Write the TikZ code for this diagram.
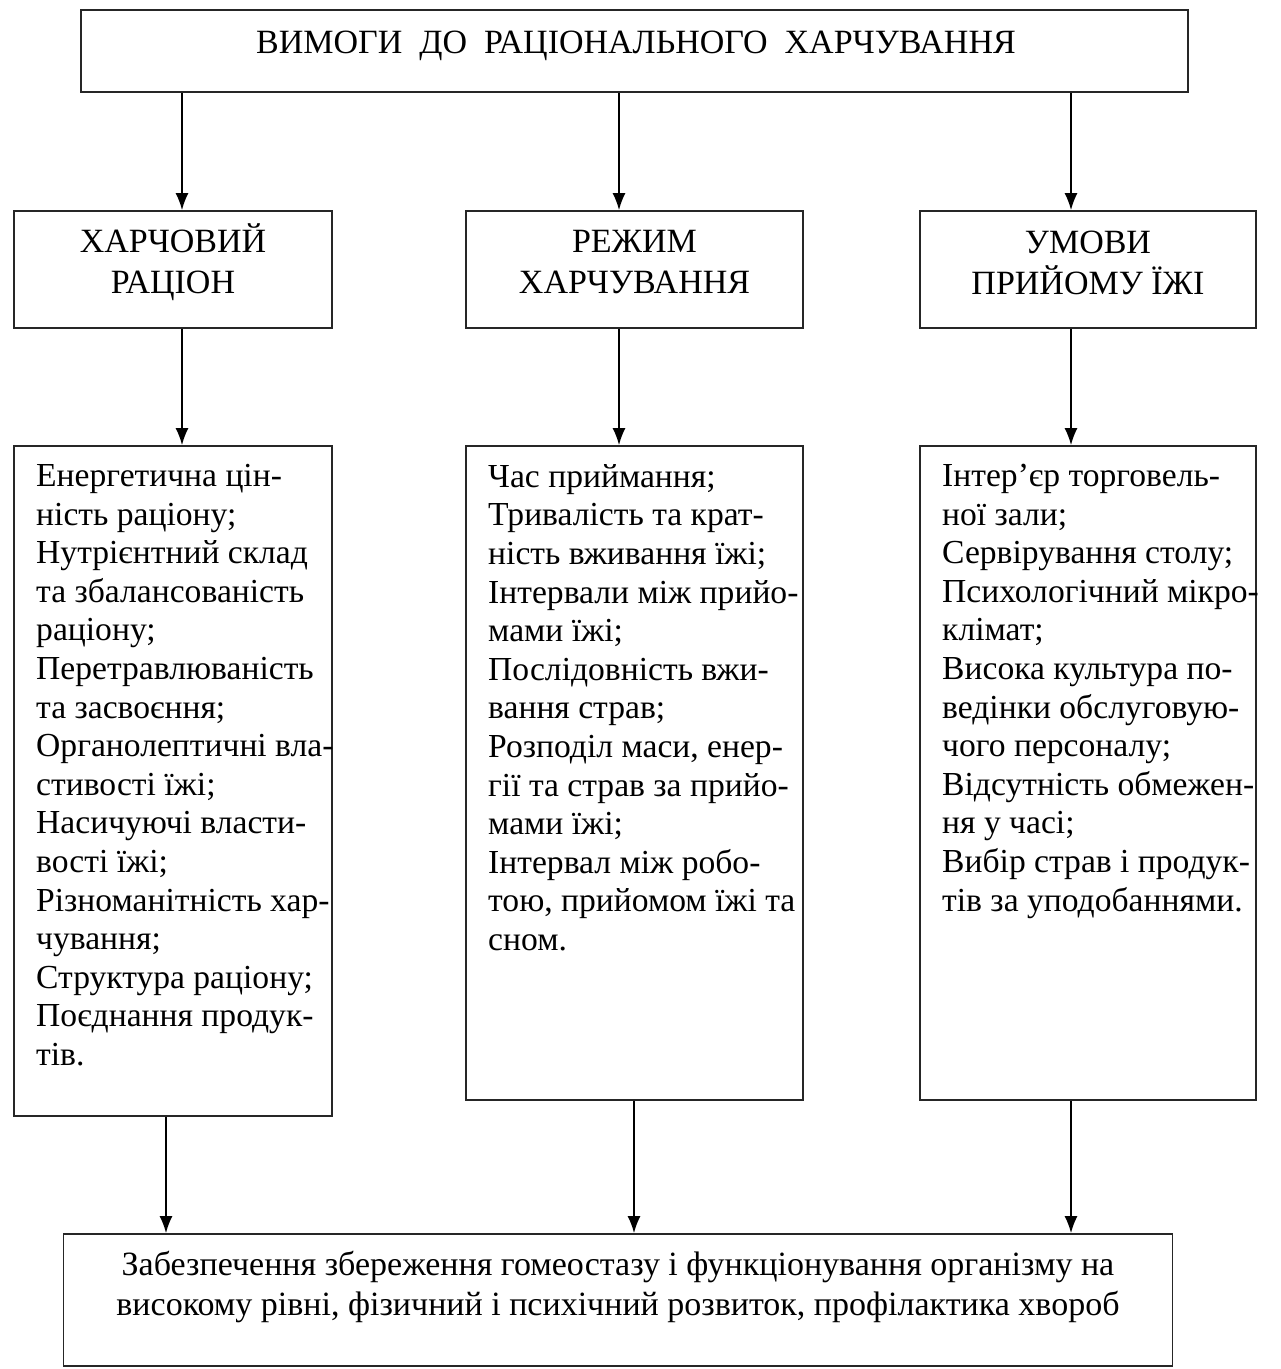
\documentclass[tikz,border=0pt]{standalone}
\usepackage{fontspec}
\setmainfont{Liberation Serif}
\usetikzlibrary{arrows.meta}
\begin{document}
\begin{tikzpicture}[x=1pt,y=-1pt,
  box/.style={draw=black!85,line width=1.7pt,inner sep=0pt},
  txt/.style={inner sep=0pt,align=center,font=\fontsize{34}{41}\selectfont},
  ltxt/.style={inner sep=0pt,align=left,anchor=north west,font=\fontsize{33.6}{38.6}\selectfont},
  arr/.style={line width=1.7pt,-{Latex[length=17pt,width=13pt]}}]
\useasboundingbox (0,0) rectangle (1281,1369);
\fill[white] (0,0) rectangle (1281,1369);
% top
\node[box,minimum width=1107pt,minimum height=82pt] (top) at (634.5,51) {};
\node[txt,font=\fontsize{34}{40}\selectfont] (toptxt) at (636,45.5) {ВИМОГИ\ \ ДО\ \ РАЦІОНАЛЬНОГО\ \ ХАРЧУВАННЯ};
% headings
\node[box,minimum width=318pt,minimum height=117pt] (h1) at (173,269.5) {};
\node[box,minimum width=337pt,minimum height=117pt] (h2) at (634.5,269.5) {};
\node[box,minimum width=336pt,minimum height=117pt] (h3) at (1088,269.5) {};
\node[txt] (h1t) at (173,262.5) {ХАРЧОВИЙ\\РАЦІОН};
\node[txt] (h2t) at (634.5,262.5) {РЕЖИМ\\ХАРЧУВАННЯ};
\node[txt] (h3t) at (1088,262.5) {УМОВИ\\ПРИЙОМУ ЇЖІ};
% lists
\node[box,minimum width=318pt,minimum height=670pt] (l1) at (173,781) {};
\node[box,minimum width=337pt,minimum height=654pt] (l2) at (634.5,773) {};
\node[box,minimum width=336pt,minimum height=654pt] (l3) at (1088,773) {};
\node[ltxt] (l1t) at (36,464) {Енергетична цін-\\ність раціону;\\Нутрієнтний склад\\та збалансованість\\раціону;\\Перетравлюваність\\та засвоєння;\\Органолептичні вла-\\стивості їжі;\\Насичуючі власти-\\вості їжі;\\Різноманітність хар-\\чування;\\Структура раціону;\\Поєднання продук-\\тів.};
\node[ltxt] (l2t) at (488,464) {Час приймання;\\Тривалість та крат-\\ність вживання їжі;\\Інтервали між прийо-\\мами їжі;\\Послідовність вжи-\\вання страв;\\Розподіл маси, енер-\\гії та страв за прийо-\\мами їжі;\\Інтервал між робо-\\тою, прийомом їжі та\\сном.};
\node[ltxt] (l3t) at (942,464) {Інтер’єр торговель-\\ної зали;\\Сервірування столу;\\Психологічний мікро-\\клімат;\\Висока культура по-\\ведінки обслуговую-\\чого персоналу;\\Відсутність обмежен-\\ня у часі;\\Вибір страв і продук-\\тів за уподобаннями.};
% bottom
\node[box,minimum width=1109pt,minimum height=132pt] (bot) at (618,1300) {};
\node[txt,font=\fontsize{34}{40}\selectfont] (bott) at (618,1287) {Забезпечення збереження гомеостазу і функціонування організму на\\високому рівні, фізичний і психічний розвиток, профілактика хвороб};
% arrows
\draw[arr] (182,0 |- top.south) -- (182,0 |- h1.north);
\draw[arr] (619,0 |- top.south) -- (619,0 |- h2.north);
\draw[arr] (1071,0 |- top.south) -- (1071,0 |- h3.north);
\draw[arr] (182,0 |- h1.south) -- (182,0 |- l1.north);
\draw[arr] (619,0 |- h2.south) -- (619,0 |- l2.north);
\draw[arr] (1071,0 |- h3.south) -- (1071,0 |- l3.north);
\draw[arr] (166,0 |- l1.south) -- (166,0 |- bot.north);
\draw[arr] (634,0 |- l2.south) -- (634,0 |- bot.north);
\draw[arr] (1071,0 |- l3.south) -- (1071,0 |- bot.north);
\end{tikzpicture}
\end{document}
